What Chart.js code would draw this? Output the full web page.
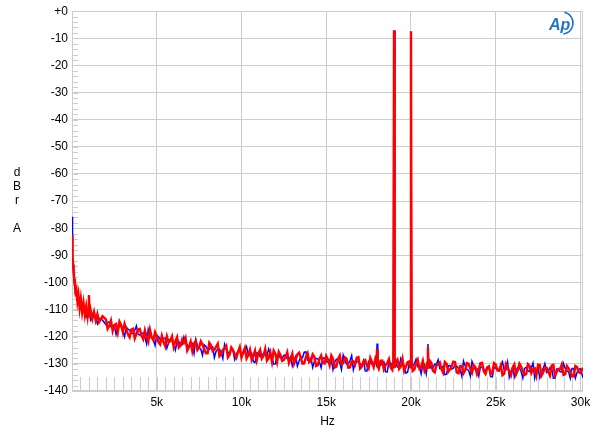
<!DOCTYPE html>
<html>
<head>
<meta charset="utf-8">
<script src="https://cdn.jsdelivr.net/npm/chart.js@4/dist/chart.umd.min.js"></script>
<style>
html,body{margin:0;padding:0;background:#fff;}
#wrap{width:600px;height:436px;position:relative;}
</style>
</head>
<body>
<div id="wrap"><canvas id="c" width="600" height="436"></canvas></div>
<script>
// Frequencies in kHz (main grid)
const freqKHz = [
  0,0.02,0.04,0.07,0.1,0.13,0.17,0.21,0.26,0.32,0.38,0.45,0.52,0.6,0.68,0.76,0.84,0.92,0.96,1.0,1.04,1.1,1.2,1.3,1.4,1.5,1.6,1.8,
  2.0,2.2,2.4,2.6,2.8, 3.0,3.2,3.4,3.6,3.8, 4.0,4.2,4.4,4.6,4.8, 5.0,5.2,5.4,5.6,5.8,
  6.0,6.2,6.4,6.6,6.8, 7.0,7.2,7.4,7.6,7.8, 8.0,8.2,8.4,8.6,8.8, 9.0,9.2,9.4,9.6,9.8,
  10.0,10.2,10.4,10.6,10.8, 11.0,11.2,11.4,11.6,11.8, 12.0,12.2,12.4,12.6,12.8, 13.0,13.2,13.4,13.6,13.8,
  14.0,14.2,14.4,14.6,14.8, 15.0,15.2,15.4,15.6,15.8, 16.0,16.2,16.4,16.6,16.8, 17.0,17.2,17.4,17.6,17.8,
  17.96,18.0,18.04, 18.2,18.4,18.6,18.8, 18.96,19.0,19.04, 19.2,19.4,19.6,19.8, 19.96,20.0,20.04,
  20.2,20.4,20.6,20.8, 20.96,21.0,21.04, 21.2,21.4,21.6,21.8,
  22.0,22.2,22.4,22.6,22.8, 23.0,23.2,23.4,23.6,23.8, 24.0,24.2,24.4,24.6,24.8, 25.0,25.2,25.4,25.6,25.8,
  26.0,26.2,26.4,26.6,26.8, 27.0,27.2,27.4,27.6,27.8, 28.0,28.2,28.4,28.6,28.8, 29.0,29.2,29.4,29.6,29.8,
  30.0,30.15
];

// Red channel, dBrA (main grid)
const redDb = [
  -82.5,-87,-90.5,-93.5,-96,-98.5,-101,-103.5,-102.5,-107,-104.5,-109.5,-106,-111,-107.5,-112,-108.8,-112.5,-110,-104.8,-112.8,-110.2,-113.4,-110.8,-114.0,-111.6,-114.6,-112.4,
  -113.6,-116.0,-117.9,-115.3,-114.4, -118.3,-117.2,-120.2,-117.1,-118.9, -117.1,-120.9,-120.0,-117.4,-121.3, -119.9,-122.8,-121.9,-119.9,-121.6,
  -123.8,-120.1,-123.3,-122.2,-125.1, -121.8,-122.5,-124.9,-121.7,-124.5, -126.1,-123.1,-124.8,-122.6,-126.5, -124.4,-127.6,-123.9,-126.4,-125.5,
  -127.7,-124.1,-126.8,-128.5,-125.1, -126.1,-128.0,-124.5,-127.9,-129.3, -126.2,-125.5,-128.9,-127.4,-129.7, -126.2,-128.3,-125.9,-129.9,-127.5,
  -129.4,-126.5,-130.8,-128.1,-129.5, -127.1,-130.5,-128.1,-131.0,-126.9, -129.8,-128.1,-131.3,-129.1,-127.7, -131.7,-129.1,-130.7,-127.8,-131.2,
  -129.0,-124.6,-130.9, -128.9,-132.0,-129.7,-131.3, -128.6,-7.0,-131.4, -128.4,-131.0,-132.6,-129.4, -131.3,-7.4,-129.2,
  -132.1,-128.5,-131.0,-132.6, -129.6,-124.0,-131.8, -129.6,-133.1,-130.2,-132.0,
  -129.3,-132.9,-131.0,-129.3,-133.5, -130.7,-132.4,-129.9,-133.3,-131.2, -132.2,-129.6,-133.7,-130.9,-133.1, -130.3,-132.3,-134.2,-130.0,-132.8,
  -131.4,-133.9,-129.9,-132.6,-133.7, -130.8,-131.9,-134.3,-130.4,-133.2, -131.4,-134.3,-130.3,-133.0,-131.9, -134.1,-130.8,-132.6,-134.6,-131.2,
  -133.3,-131.4
];

// Blue channel, dBrA (main grid)
const blueDb = [
  -75.8,-86,-90.8,-94.2,-97.5,-99.8,-102.2,-104.5,-104.8,-106.5,-106.8,-108.5,-109.5,-109.8,-110.2,-110.5,-112.6,-111.0,-111.5,-104.6,-111.6,-113.8,-112.4,-112.6,-113.0,-115.2,-113.3,-113.9,
  -115.5,-114.6,-116.1,-119.1,-116.2, -117.9,-116.4,-117.6,-118.9,-116.0, -119.4,-118.7,-122.6,-119.6,-121.0, -119.4,-121.0,-120.6,-124.2,-120.8,
  -122.6,-121.8,-123.4,-120.1,-123.1, -122.3,-126.1,-123.3,-124.5,-123.0, -124.7,-123.8,-127.7,-124.5,-125.9, -122.8,-125.8,-124.7,-128.4,-125.3,
  -126.7,-125.2,-126.4,-126.0,-129.5, -126.0,-127.5,-125.8,-124.5,-127.6, -130.0,-126.8,-128.0,-126.8,-128.0, -130.8,-127.2,-128.9,-127.7,-125.6,
  -128.8,-131.3,-127.9,-129.3,-127.8, -129.2,-128.6,-132.1,-128.3,-129.7, -126.8,-130.1,-128.9,-132.2,-129.3, -130.1,-128.8,-132.7,-129.4,-130.5,
  -130.2,-122.5,-130.0, -130.6,-129.2,-133.0,-129.6, -130.4,-7.2,-130.8, -131.2,-128.0,-130.7,-133.1, -130.6,-7.6,-130.9,
  -129.9,-131.1,-133.7,-130.1, -130.9,-122.7,-130.6, -131.7,-130.1,-128.5,-131.5,
  -134.0,-130.7,-131.9,-130.5,-131.6, -134.5,-130.8,-132.4,-129.1,-132.1, -134.4,-131.3,-132.3,-130.9,-134.8, -131.5,-132.7,-129.3,-132.3,-134.9,
  -131.3,-132.5,-131.5,-135.2,-131.3, -132.8,-129.7,-132.5,-135.0,-131.7, -133.1,-131.4,-135.3,-131.9,-132.9, -129.9,-132.6,-135.3,-131.7,-133.2,
  -131.8,-135.1
];

// In-between frequencies in kHz (2.1 ... 29.9)
const freqMidKHz = [
  2.1,2.3,2.5,2.7,2.9, 3.1,3.3,3.5,3.7,3.9, 4.1,4.3,4.5,4.7,4.9, 5.1,5.3,5.5,5.7,5.9,
  6.1,6.3,6.5,6.7,6.9, 7.1,7.3,7.5,7.7,7.9, 8.1,8.3,8.5,8.7,8.9, 9.1,9.3,9.5,9.7,9.9,
  10.1,10.3,10.5,10.7,10.9, 11.1,11.3,11.5,11.7,11.9, 12.1,12.3,12.5,12.7,12.9, 13.1,13.3,13.5,13.7,13.9,
  14.1,14.3,14.5,14.7,14.9, 15.1,15.3,15.5,15.7,15.9, 16.1,16.3,16.5,16.7,16.9, 17.1,17.3,17.5,17.7,17.9,
  18.1,18.3,18.5,18.7,18.9, 19.1,19.3,19.5,19.7,19.9, 20.1,20.3,20.5,20.7,20.9, 21.1,21.3,21.5,21.7,21.9,
  22.1,22.3,22.5,22.7,22.9, 23.1,23.3,23.5,23.7,23.9, 24.1,24.3,24.5,24.7,24.9, 25.1,25.3,25.5,25.7,25.9,
  26.1,26.3,26.5,26.7,26.9, 27.1,27.3,27.5,27.7,27.9, 28.1,28.3,28.5,28.7,28.9, 29.1,29.3,29.5,29.7,29.9
];

const redMidDb = [
  -117.1,-114.0,-115.7,-118.4,-115.7, -115.2,-119.1,-117.4,-120.6,-117.4, -119.6,-117.6,-121.8,-120.2,-118.3, -122.0,-119.6,-123.5,-122.1,-119.9,
  -121.6,-124.0,-121.0,-120.5,-123.8, -125.3,-121.6,-124.0,-122.9,-126.1, -122.2,-125.3,-123.7,-127.2,-124.7, -123.4,-126.6,-124.9,-127.7,-123.8,
  -125.8,-128.0,-124.8,-127.1,-128.7, -124.8,-127.0,-128.8,-125.8,-125.1, -129.3,-126.7,-128.5,-125.7,-128.2, -130.0,-126.5,-127.7,-129.8,-126.1,
  -128.9,-127.4,-130.5,-126.9,-129.9, -128.4,-126.9,-131.3,-128.2,-130.1, -127.6,-131.4,-129.2,-130.3,-127.5, -131.0,-128.6,-131.7,-129.3,-128.1,
  -131.8,-128.8,-130.5,-128.2,-132.2, -129.3,-131.9,-128.2,-131.1,-129.1, -132.6,-130.0,-131.8,-128.9,-131.2, -128.8,-132.6,-130.6,-129.5,-133.3,
  -130.0,-132.0,-129.2,-133.2,-130.8, -133.5,-129.7,-131.8,-130.5,-133.8, -129.7,-132.8,-131.4,-133.8,-129.7, -132.4,-130.5,-133.7,-131.1,-134.3,
  -130.2,-132.4,-131.0,-134.1,-130.1, -133.4,-131.6,-130.3,-134.4,-131.3, -133.0,-130.6,-134.3,-131.9,-130.2, -133.8,-131.7,-134.5,-130.8,-133.0
];

const blueMidDb = [
  -114.7,-116.3,-115.8,-116.8,-116.0, -120.0,-117.2,-118.6,-117.7,-119.1, -118.6,-120.2,-117.3,-120.5,-123.2, -120.0,-121.3,-120.5,-122.2,-121.5,
  -124.9,-121.7,-123.0,-122.3,-123.7, -122.4,-121.0,-124.2,-126.8,-123.6, -124.7,-123.7,-125.4,-124.6,-128.0, -124.7,-125.9,-125.2,-126.5,-125.2,
  -126.3,-123.7,-126.9,-129.2,-126.0, -127.3,-126.1,-127.3,-126.2,-130.1, -126.8,-127.9,-126.8,-128.1,-127.4, -128.6,-130.8,-127.4,-125.7,-128.6,
  -127.8,-129.1,-128.2,-131.4,-127.9, -129.3,-128.3,-129.4,-128.3,-132.1, -128.8,-129.9,-126.9,-129.9,-129.0, -130.4,-132.6,-129.1,-130.2,-129.1,
  -130.6,-129.6,-132.9,-129.3,-130.7, -129.9,-131.0,-129.7,-133.4,-129.9, -130.9,-128.3,-131.2,-130.0,-133.6, -130.4,-131.4,-130.2,-131.7,-130.8,
  -133.9,-130.6,-131.6,-130.8,-132.1, -129.0,-132.0,-134.5,-130.8,-131.9, -131.2,-132.4,-131.1,-134.7,-131.3, -132.3,-131.1,-132.3,-129.4,-132.6,
  -134.8,-131.4,-132.8,-131.7,-132.6, -131.4,-135.2,-131.7,-132.8,-129.9, -132.6,-131.5,-135.2,-131.9,-133.0, -131.7,-132.9,-131.7,-135.2,-132.0
];

const xTickKHz = [5, 10, 15, 20, 25, 30];
const yTickDb = [0,-10,-20,-30,-40,-50,-60,-70,-80,-90,-100,-110,-120,-130,-140];
const yTitleLetters = ['d','B','r','','A'];

const GRID = '#cdcdcd';
const FONT = '"Liberation Sans", Arial, sans-serif';

const framePlugin = {
  id: 'frame',
  beforeDatasetsDraw(chart) {
    const {ctx, chartArea: a, scales: {x, y}} = chart;
    ctx.save();
    ctx.strokeStyle = GRID;
    ctx.lineWidth = 1;
    ctx.beginPath();
    for (let v = 0.5; v < x.max; v += 0.5) {
      const px = Math.round(x.getPixelForValue(v)) + 0.5;
      ctx.moveTo(px, a.bottom);
      ctx.lineTo(px, a.bottom - 14);
    }
    for (let v = y.min + 2; v < y.max; v += 2) {
      const py = Math.round(y.getPixelForValue(v)) + 0.5;
      ctx.moveTo(a.left, py);
      ctx.lineTo(a.left + 6, py);
    }
    ctx.stroke();
    const l = Math.round(a.left) + 0.5, r = Math.round(a.right) - 0.5;
    const t = Math.round(a.top) + 0.5, b = Math.round(a.bottom) - 0.5;
    ctx.strokeRect(l, t, r - l, b - t);
    ctx.restore();
  },
  afterDraw(chart) {
    const {ctx} = chart;
    ctx.save();
    ctx.fillStyle = '#000';
    ctx.font = '12px ' + FONT;
    ctx.textAlign = 'center';
    ctx.textBaseline = 'middle';
    const ys = [173, 187, 201, 215, 229];
    yTitleLetters.forEach((ch, i) => { if (ch) ctx.fillText(ch, 17, ys[i]); });
    ctx.fillStyle = '#1f76c4';
    ctx.strokeStyle = '#1f76c4';
    ctx.font = 'italic bold 16px ' + FONT;
    ctx.textAlign = 'left';
    ctx.textBaseline = 'alphabetic';
    ctx.fillText('Ap', 549, 30);
    ctx.lineWidth = 1.6;
    ctx.beginPath();
    ctx.arc(562, 23, 11, -1.35, 1.45);
    ctx.stroke();
    ctx.restore();
  }
};

const toPts = (main, mid) => freqKHz.map((f, i) => ({x: f, y: main[i]}))
  .concat(freqMidKHz.map((f, i) => ({x: f, y: mid[i]})))
  .sort((p, q) => p.x - q.x);

new Chart(document.getElementById('c'), {
  type: 'line',
  data: {
    datasets: [
      {label: 'Right', data: toPts(redDb, redMidDb), borderColor: '#ff0000', borderWidth: 2.4, pointRadius: 0, tension: 0, fill: false},
      {label: 'Left', data: toPts(blueDb, blueMidDb), borderColor: '#0000ff', borderWidth: 1.5, pointRadius: 0, tension: 0, fill: false}
    ]
  },
  options: {
    responsive: false,
    animation: false,
    events: [],
    layout: {padding: {left: 0, right: 17, top: 10, bottom: 0}},
    plugins: {legend: {display: false}, tooltip: {enabled: false}},
    scales: {
      x: {
        type: 'linear', min: 0, max: 30.15,
        afterBuildTicks: s => { s.ticks = xTickKHz.map(v => ({value: v})); },
        afterFit: s => { s.height = 45; },
        grid: {color: GRID, drawTicks: false},
        border: {display: false},
        ticks: {callback: v => v + 'k', color: '#000', font: {family: FONT, size: 12}, padding: 4, maxRotation: 0, autoSkip: false},
        title: {display: true, text: 'Hz', color: '#000', font: {family: FONT, size: 12}, padding: {top: 2, bottom: 7}}
      },
      y: {
        min: -140, max: 0,
        afterBuildTicks: s => { s.ticks = yTickDb.map(v => ({value: v})); },
        afterFit: s => { s.width = 72; },
        grid: {color: GRID, drawTicks: false},
        border: {display: false},
        ticks: {callback: v => v === 0 ? '+0' : String(v), color: '#000', font: {family: FONT, size: 12}, padding: 4}
      }
    }
  },
  plugins: [framePlugin]
});
</script>
</body>
</html>
